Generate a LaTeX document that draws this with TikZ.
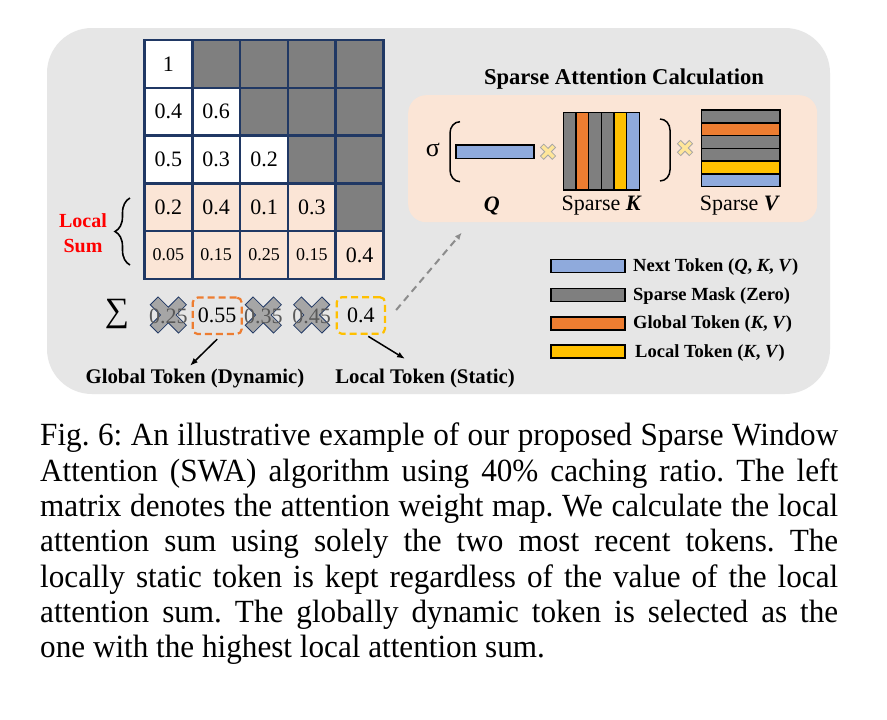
\documentclass[tikz,border=0pt]{standalone}
\usepackage{fontspec}
\setmainfont{Liberation Serif}
\newfontfamily\capfont{Liberation Serif}[FakeStretch=0.965]
\usetikzlibrary{decorations.pathreplacing,arrows.meta,calc}
\definecolor{panelgray}{HTML}{E6E6E6}
\definecolor{peach}{HTML}{FBE5D6}
\definecolor{navy}{HTML}{203864}
\definecolor{maskgray}{HTML}{7F7F7F}
\definecolor{tokblue}{HTML}{8FAADC}
\definecolor{tokorange}{HTML}{ED7D31}
\definecolor{tokyellow}{HTML}{FFC000}
\definecolor{xgray}{HTML}{A6A6A6}
\definecolor{paleyellow}{HTML}{FFE699}
\definecolor{txtgray}{HTML}{595959}
\definecolor{arrgray}{HTML}{8C8C8C}
\tikzset{
  cell/.style={draw=navy, line width=2.5pt, minimum width=47.8pt, minimum height=47.8pt, inner sep=0pt},
  bignum/.style={font=\fontsize{22}{22}\selectfont},
  smallnum/.style={font=\fontsize{18}{18}\selectfont},
  lab/.style={font=\fontsize{20.8}{20.8}\selectfont\bfseries, inner sep=0pt},
  legtext/.style={font=\fontsize{18.5}{18.5}\selectfont\bfseries, inner sep=0pt, anchor=west},
  legbox/.style={draw=black, line width=1.6pt, minimum width=74pt, minimum height=13pt, inner sep=0pt},
  bar/.style={draw=black, line width=1.5pt, inner sep=0pt},
  dashbox/.style={dashed, dash pattern=on 7pt off 4pt, line width=2.2pt, rounded corners=5pt, minimum height=36.5pt, inner sep=0pt},
  blackarrow/.style={line width=1.5pt, -{Latex[length=8pt,width=6pt]}},
  xmark/.pic={\filldraw[pic actions, rotate=45] (5.5,20)--(5.5,5.5)--(20,5.5)--(20,-5.5)--(5.5,-5.5)--(5.5,-20)--(-5.5,-20)--(-5.5,-5.5)--(-20,-5.5)--(-20,5.5)--(-5.5,5.5)--(-5.5,20)--cycle;}
}
\begin{document}
\begin{tikzpicture}[x=1pt,y=-1pt]
\useasboundingbox (0,0) rectangle (887,720);
\fill[white] (0,0) rectangle (887,720);
% grey panel
\fill[panelgray, rounded corners=45pt] (47,28) rectangle (830,394);
% matrix
\foreach \i/\j/\fc/\t/\fs in {
  0/0/white/1/bignum, 0/1/maskgray/{}/bignum, 0/2/maskgray/{}/bignum, 0/3/maskgray/{}/bignum, 0/4/maskgray/{}/bignum,
  1/0/white/0.4/bignum, 1/1/white/0.6/bignum, 1/2/maskgray/{}/bignum, 1/3/maskgray/{}/bignum, 1/4/maskgray/{}/bignum,
  2/0/white/0.5/bignum, 2/1/white/0.3/bignum, 2/2/white/0.2/bignum, 2/3/maskgray/{}/bignum, 2/4/maskgray/{}/bignum,
  3/0/peach/0.2/bignum, 3/1/peach/0.4/bignum, 3/2/peach/0.1/bignum, 3/3/peach/0.3/bignum, 3/4/maskgray/{}/bignum,
  4/0/peach/0.05/smallnum, 4/1/peach/0.15/smallnum, 4/2/peach/0.25/smallnum, 4/3/peach/0.15/smallnum, 4/4/peach/0.4/bignum}
  \node[cell, fill=\fc, \fs] (c\i\j) at ({144.5+47.8*(\j+0.5)},{40+47.8*(\i+0.5)}) {\t};
% local sum
\node[font=\fontsize{20}{25}\selectfont\bfseries, text=red, align=center, inner sep=0pt] (ls) at (83,233) {Local\\Sum};
\draw[decorate, decoration={brace, amplitude=15pt}, line width=1.6pt] (130,265) -- (130,198);
% sum row
\node[font=\fontsize{34}{34}\selectfont, inner sep=0pt] (sig) at (117,314) {∑};
\pic[fill=xgray, draw=navy, line width=0.8pt] at (168.3,315) {xmark};
\pic[fill=xgray, draw=navy, line width=0.8pt] at (263.3,315) {xmark};
\pic[fill=xgray, draw=navy, line width=0.8pt] at (311.7,315) {xmark};
\node[bignum, text=txtgray, inner sep=0pt] (s1) at (168.3,316) {0.25};
\node[bignum, text=txtgray, inner sep=0pt] (s3) at (263.3,316) {0.35};
\node[bignum, text=txtgray, inner sep=0pt] (s4) at (311.7,316) {0.45};
\node[dashbox, draw=tokorange, minimum width=49pt, bignum] (s2) at (217.2,315.8) {0.55};
\node[dashbox, draw=tokyellow, minimum width=48.3pt, bignum] (s5) at (360.9,315.5) {0.4};
% labels
\node[lab] (glab) at (195,378.5) {Global Token (Dynamic)};
\node[lab] (llab) at (425,378.5) {Local Token (Static)};
\draw[blackarrow] ([yshift=-4pt]s2.south) -- ([xshift=-5pt,yshift=3pt]glab.north);
\draw[blackarrow] ([xshift=7.4pt,yshift=-1.5pt]s5.south) -- ([xshift=-20pt,yshift=10pt]llab.north);
% right panel
\node[lab, font=\fontsize{22.6}{22.6}\selectfont\bfseries] (ttl) at (624,78.9) {Sparse Attention Calculation};
\node[fill=peach, rounded corners=18pt, minimum width=409pt, minimum height=127pt, inner sep=0pt, anchor=north west] (calc) at (408,95) {};
\draw[arrgray, line width=2pt, dashed, dash pattern=on 7pt off 5pt, -{Latex[length=7pt,width=6pt]}] ([xshift=10pt,yshift=5.5pt]s5.east) -- ([xshift=53.7pt,yshift=-10.3pt]calc.south west);
\node[font=\fontsize{26}{26}\selectfont, inner sep=0pt] (sigma) at (433,150) {σ};
\draw[line width=1.5pt] (460,121.7) to[out=180,in=90] (450,133) -- (450,170) to[out=-90,in=180] (460,181.7);
\draw[line width=1.5pt] (660,119) to[out=0,in=90] (670,130) -- (670,170) to[out=-90,in=0] (660,181);
\node[bar, fill=tokblue, minimum width=78pt, minimum height=13.3pt] (qbar) at (495.2,151.7) {};
\pic[fill=paleyellow, draw=xgray, line width=0.8pt, scale=0.42] at (548,151.7) {xmark};
\pic[fill=paleyellow, draw=xgray, line width=0.8pt, scale=0.42] at (685,148) {xmark};
\foreach \fc [count=\k from 0] in {maskgray,tokorange,maskgray,maskgray,tokyellow,tokblue}
  \node[bar, fill=\fc, minimum width=12.67pt, minimum height=77.3pt] (k\k) at ({563.3+12.67*(\k+0.5)},151.35) {};
\foreach \fc [count=\k from 0] in {maskgray,tokorange,maskgray,maskgray,tokyellow,tokblue}
  \node[bar, fill=\fc, minimum width=78.3pt, minimum height=12.78pt] (v\k) at (740.85,{110+12.78*(\k+0.5)}) {};
\node[font=\fontsize{22}{22}\selectfont\bfseries\itshape, inner sep=0pt] (qlab) at (491.7,206) {Q};
\node[font=\fontsize{22}{22}\selectfont, inner sep=0pt] (klab) at (601.7,206) {Sparse \textbf{\textit{K}}};
\node[font=\fontsize{22}{22}\selectfont, inner sep=0pt] (vlab) at (740,206) {Sparse \textbf{\textit{V}}};
% legend
\node[legbox, fill=tokblue] (l1) at (588,266) {};
\node[legbox, fill=maskgray] (l2) at (588,295) {};
\node[legbox, fill=tokorange] (l3) at (588,323.3) {};
\node[legbox, fill=tokyellow] (l4) at (588,351.7) {};
\node[legtext] (t1) at (633,267) {Next Token (\textit{Q}, \textit{K}, \textit{V})};
\node[legtext] (t2) at (633,296) {Sparse Mask (Zero)};
\node[legtext] (t3) at (633,324.3) {Global Token (\textit{K}, \textit{V})};
\node[legtext] (t4) at (635,352.7) {Local Token (\textit{K}, \textit{V})};
% caption
\node[anchor=north west, inner sep=0pt, text width=798pt, align=justify, font=\capfont\fontsize{32.3}{35.3}\selectfont] (cap) at (40,423) {\frenchspacing
Fig. 6: An illustrative example of our proposed Sparse Window\linebreak
Attention (SWA) algorithm using 40\% caching ratio. The left\linebreak
matrix denotes the attention weight map. We calculate the local\linebreak
attention sum using solely the two most recent tokens. The\linebreak
locally static token is kept regardless of the value of the local\linebreak
attention sum. The globally dynamic token is selected as the\linebreak
one with the highest local attention sum.};
\end{tikzpicture}
\end{document}
